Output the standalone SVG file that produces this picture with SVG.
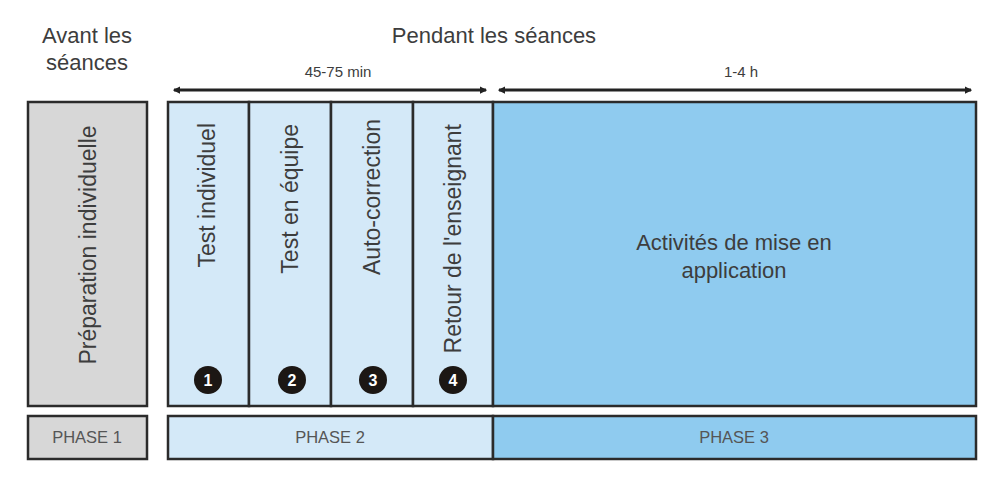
<svg xmlns="http://www.w3.org/2000/svg" width="990" height="482" viewBox="0 0 990 482">
<defs>
<style>
text{font-family:"Liberation Sans",Arial,sans-serif;fill:#3d3d3d}
.h{font-size:22px;text-anchor:middle}
.s{font-size:15px;text-anchor:middle}
.v{font-size:23px;text-anchor:end}
.p{font-size:16.5px;text-anchor:middle;fill:#555}
.box{stroke:#2b2b2b;stroke-width:2.5}
.gray{fill:#d7d7d7}
.lb{fill:#d4e9f8}
.db{fill:#8fcbef}
.num{fill:#1c1714}
.nt{font-size:16px;font-weight:bold;fill:#fff;text-anchor:middle}
.ar{stroke:#222;stroke-width:3;fill:none}
</style>
<marker id="ah" viewBox="0 0 6 6" refX="5" refY="3" markerWidth="2.5" markerHeight="2.5" orient="auto-start-reverse">
<path d="M0,0 L6,3 L0,6 z" fill="#222"/>
</marker>
</defs>
<rect width="990" height="482" fill="#fff"/>

<g id="headers">
<text class="h" x="87" y="43">Avant les</text>
<text class="h" x="87" y="70">séances</text>
<text class="h" x="494" y="43">Pendant les séances</text>
<text class="s" x="338" y="77">45-75 min</text>
<text class="s" x="741" y="77">1-4 h</text>
</g>

<g id="connectors">
<line class="ar" x1="174" y1="90" x2="486" y2="90" marker-start="url(#ah)" marker-end="url(#ah)"/>
<line class="ar" x1="499" y1="90" x2="971" y2="90" marker-start="url(#ah)" marker-end="url(#ah)"/>
</g>

<g id="preparation">
<rect class="box gray" x="28" y="102" width="119" height="304"/>
<text class="v" transform="translate(96,245) rotate(-90)" style="text-anchor:middle">Préparation individuelle</text>
</g>

<g id="test-individuel">
<rect class="box lb" x="168" y="102" width="81" height="304"/>
<text class="v" transform="translate(215,123) rotate(-90)">Test individuel</text>
<circle class="num" cx="208" cy="380" r="14"/>
<text class="nt" x="208" y="386">1</text>
</g>

<g id="test-equipe">
<rect class="box lb" x="249" y="102" width="82" height="304"/>
<text class="v" transform="translate(298,124) rotate(-90)">Test en équipe</text>
<circle class="num" cx="292" cy="380" r="14"/>
<text class="nt" x="292" y="386">2</text>
</g>

<g id="auto-correction">
<rect class="box lb" x="331" y="102" width="82" height="304"/>
<text class="v" transform="translate(380,119) rotate(-90)">Auto-correction</text>
<circle class="num" cx="373" cy="380" r="14"/>
<text class="nt" x="373" y="386">3</text>
</g>

<g id="retour">
<rect class="box lb" x="413" y="102" width="80" height="304"/>
<text class="v" transform="translate(461,124) rotate(-90)">Retour de l'enseignant</text>
<circle class="num" cx="453" cy="380" r="14"/>
<text class="nt" x="453" y="386">4</text>
</g>

<g id="activites">
<rect class="box db" x="493" y="102" width="483" height="304"/>
<text class="h" x="734" y="250">Activités de mise en</text>
<text class="h" x="734" y="278">application</text>
</g>

<g id="phase1">
<rect class="box gray" x="28" y="416" width="119" height="43"/>
<text class="p" x="87" y="443">PHASE 1</text>
</g>
<g id="phase2">
<rect class="box lb" x="168" y="416" width="325" height="43"/>
<text class="p" x="330" y="443">PHASE 2</text>
</g>
<g id="phase3">
<rect class="box db" x="493" y="416" width="483" height="43"/>
<text class="p" x="734" y="443">PHASE 3</text>
</g>
</svg>
